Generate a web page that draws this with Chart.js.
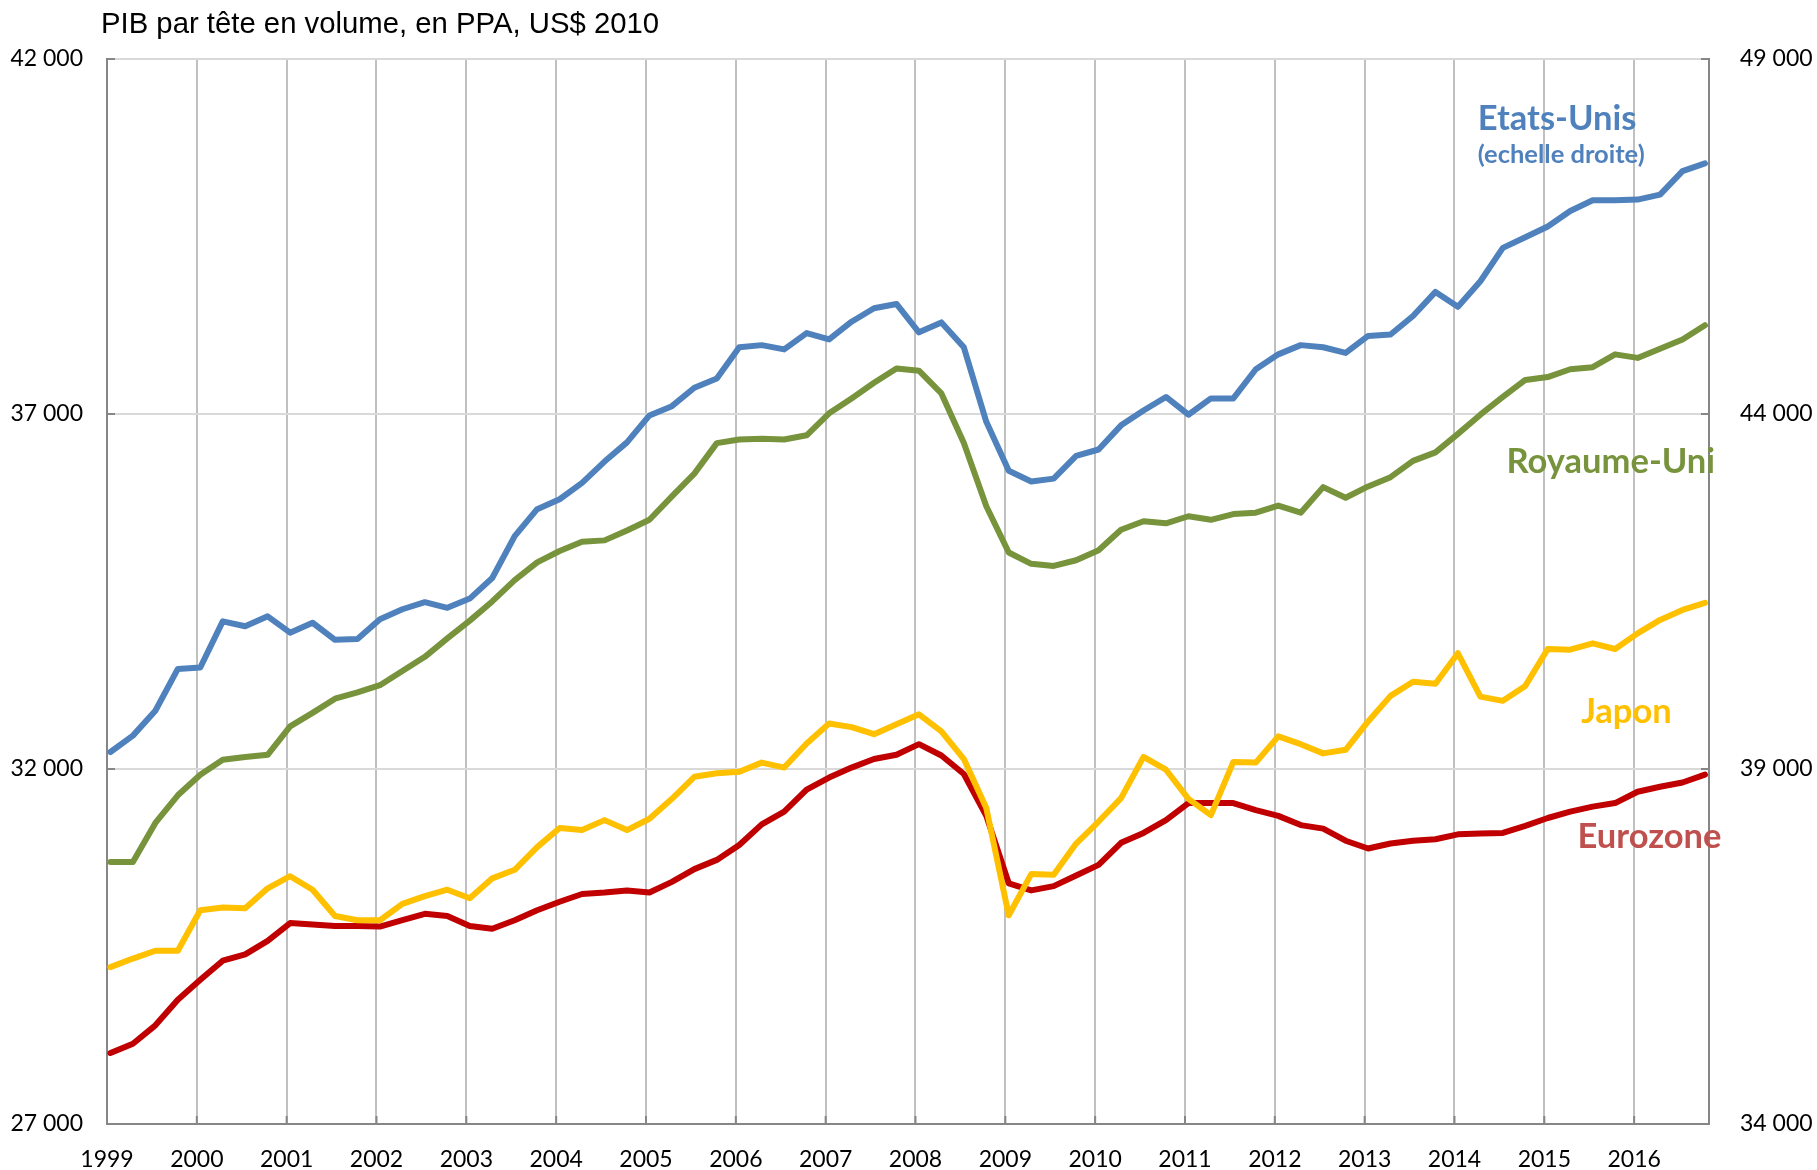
<!DOCTYPE html>
<html lang="fr">
<head>
  <meta charset="UTF-8">
  <title>PIB par tête en volume, en PPA</title>
  <script src="https://cdn.jsdelivr.net/npm/chart.js"></script>
  <style>
    html, body { margin: 0; padding: 0; background: #fff; }
    .chart-container { position: relative; width: 1817px; height: 1170px; }
  </style>
</head>
<body>
  <div class="chart-container">
    <canvas id="pibChart"></canvas>
  </div>

  <script>
    // Trimestres 1999T1 ... 2016T4
    const annees = [];
    for (let a = 1999; a <= 2016; a++) annees.push(a);
    const trimestres = [];
    annees.forEach(a => ['T1', 'T2', 'T3', 'T4'].forEach(t => trimestres.push(a + t)));

    // Etats-Unis (echelle droite)
    const etatsUnis = [
      39240, 39470, 39820, 40410, 40430, 41080, 41010, 41150, 40920, 41060, 40820, 40830,
      41110, 41250, 41350, 41270, 41400, 41690, 42280, 42660, 42800, 43030, 43330, 43600,
      43980, 44110, 44370, 44500, 44940, 44970, 44910, 45140, 45050, 45300, 45490, 45550,
      45150, 45290, 44940, 43890, 43200, 43050, 43090, 43410, 43500, 43840, 44050, 44240,
      43990, 44220, 44220, 44630, 44840, 44970, 44940, 44860, 45100, 45120, 45380, 45720,
      45510, 45870, 46340, 46490, 46640, 46860, 47010, 47010, 47020, 47090, 47420, 47530
    ];
    // Royaume-Uni (echelle gauche)
    const royaumeUni = [
      30690, 30690, 31240, 31630, 31920, 32130, 32170, 32200, 32600, 32790, 32990, 33080,
      33180, 33380, 33580, 33840, 34090, 34360, 34660, 34910, 35070, 35200, 35220, 35360,
      35510, 35840, 36160, 36590, 36640, 36650, 36640, 36700, 37010, 37220, 37440, 37640,
      37610, 37290, 36590, 35700, 35050, 34890, 34860, 34940, 35080, 35370, 35490, 35460,
      35560, 35510, 35590, 35610, 35710, 35610, 35970, 35820, 35980, 36110, 36340, 36460,
      36720, 36990, 37240, 37480, 37520, 37630, 37660, 37840, 37790, 37920, 38050, 38250
    ];
    // Japon
    const japon = [
      29210, 29330, 29440, 29440, 30010, 30050, 30040, 30320, 30490, 30300, 29930, 29870,
      29870, 30100, 30210, 30300, 30180, 30460, 30580, 30900, 31170, 31140, 31280, 31140,
      31300, 31580, 31890, 31940, 31960, 32090, 32020, 32360, 32640, 32590, 32490, 32630,
      32770, 32530, 32140, 31450, 29940, 30520, 30510, 30950, 31260, 31590, 32170, 31990,
      31580, 31350, 32100, 32090, 32460, 32350, 32220, 32270, 32670, 33030, 33230, 33200,
      33630, 33020, 32960, 33170, 33690, 33680, 33770, 33690, 33910, 34100, 34240, 34340
    ];
    // Eurozone
    const eurozone = [
      28000, 28130, 28390, 28750, 29030, 29300, 29390, 29580, 29830, 29810, 29790, 29790,
      29780, 29870, 29960, 29930, 29790, 29750, 29870, 30010, 30130, 30240, 30260, 30290,
      30260, 30410, 30590, 30720, 30930, 31220, 31400, 31710, 31880, 32020, 32140, 32200,
      32350, 32190, 31930, 31340, 30390, 30290, 30350, 30500, 30650, 30960, 31100, 31280,
      31520, 31520, 31520, 31420, 31340, 31210, 31160, 30990, 30880, 30950, 30990, 31010,
      31080, 31090, 31100, 31200, 31310, 31400, 31470, 31520, 31680, 31750, 31810, 31920
    ];

    const ticksGauche = [27000, 32000, 37000, 42000];
    const ticksDroite = [34000, 39000, 44000, 49000];

    // Etiquettes des séries : [texte, couleur, taille, annee, valeur echelle gauche]
    const etiquettes = [
      ['Etats-Unis', '#4F81BD', 34.5, 2014.26, 41160],
      ['(echelle droite)', '#4F81BD', 25.5, 2014.26, 40650],
      ['Royaume-Uni', '#77933C', 34.5, 2014.58, 36330],
      ['Japon', '#FFC000', 34.5, 2015.41, 32800],
      ['Eurozone', '#C0504D', 34.5, 2015.37, 31040]
    ];

    // point place au 15 du premier mois du trimestre
    function dateTrimestre(lbl) {
      const a = +lbl.slice(0, 4), q = +lbl.slice(5);
      return a + (q - 1) * 0.25 + 14 / 365;
    }
    function serie(valeurs) {
      return valeurs.map((v, i) => ({ x: dateTrimestre(trimestres[i]), y: v }));
    }
    function milliers(v) {
      return String(v).replace(/\B(?=(\d{3})+(?!\d))/g, ' ');
    }

    const axeCouleur = '#868686';

    const titrePlugin = {
      id: 'titre',
      afterDraw(chart) {
        const ctx = chart.ctx;
        ctx.save();
        ctx.font = '29.3px "Liberation Sans", Arial, sans-serif';
        ctx.fillStyle = '#000';
        ctx.textAlign = 'left';
        ctx.textBaseline = 'alphabetic';
        ctx.fillText('PIB par tête en volume, en PPA, US$ 2010', chart.chartArea.left - 6, 33);
        ctx.restore();
      }
    };

    const graduationsPlugin = {
      id: 'graduations',
      beforeDatasetsDraw(chart) {
        const { ctx, chartArea: ca, scales } = chart;
        ctx.save();
        ctx.strokeStyle = axeCouleur;
        ctx.lineWidth = 2;
        ctx.beginPath();
        ticksGauche.forEach(v => {
          const y = scales.y.getPixelForValue(v);
          ctx.moveTo(ca.left, y); ctx.lineTo(ca.left + 8, y);
        });
        ticksDroite.forEach(v => {
          const y = scales.y2.getPixelForValue(v);
          ctx.moveTo(ca.right - 8, y); ctx.lineTo(ca.right, y);
        });
        annees.forEach(a => {
          const x = scales.x.getPixelForValue(a);
          ctx.moveTo(x, ca.bottom); ctx.lineTo(x, ca.bottom - 8);
        });
        ctx.stroke();
        ctx.restore();
      }
    };

    const etiquettesPlugin = {
      id: 'etiquettes',
      afterDatasetsDraw(chart) {
        const { ctx, scales } = chart;
        ctx.save();
        ctx.textAlign = 'left';
        ctx.textBaseline = 'middle';
        etiquettes.forEach(([texte, couleur, taille, x, y]) => {
          ctx.font = 'bold ' + taille + 'px Lato, "Open Sans", sans-serif';
          ctx.fillStyle = couleur;
          ctx.fillText(texte, scales.x.getPixelForValue(x), scales.y.getPixelForValue(y));
        });
        ctx.restore();
      }
    };

    const styleLigne = { borderWidth: 6, pointRadius: 0, tension: 0, fill: false,
                         borderJoinStyle: 'round', borderCapStyle: 'round' };

    const ctx = document.getElementById('pibChart').getContext('2d');
    const pibChart = new Chart(ctx, {
      type: 'line',
      data: {
        datasets: [
          { label: 'Etats-Unis', data: serie(etatsUnis), borderColor: '#4F81BD', yAxisID: 'y2', ...styleLigne },
          { label: 'Royaume-Uni', data: serie(royaumeUni), borderColor: '#77933C', yAxisID: 'y', ...styleLigne },
          { label: 'Japon', data: serie(japon), borderColor: '#FFC000', yAxisID: 'y', ...styleLigne },
          { label: 'Eurozone', data: serie(eurozone), borderColor: '#C00000', yAxisID: 'y', ...styleLigne }
        ]
      },
      options: {
        responsive: true,
        maintainAspectRatio: false,
        animation: false,
        layout: { padding: { top: 59, left: 0, right: 0, bottom: 0 } },
        plugins: {
          legend: { display: false },
          tooltip: { enabled: false },
          title: { display: false }
        },
        scales: {
          x: {
            type: 'linear',
            min: 1999,
            max: 2016 + 10 / 12,
            afterBuildTicks: s => { s.ticks = annees.map(a => ({ value: a })); },
            afterFit: s => { s.height = 46; },
            ticks: {
              callback: v => String(v),
              color: '#000',
              padding: 22,
              maxRotation: 0,
              autoSkip: false,
              font: { family: 'Lato', size: 23 }
            },
            grid: { color: 'rgb(192,192,192)', lineWidth: 2, drawTicks: false },
            border: { color: axeCouleur, width: 2 }
          },
          y: {
            position: 'left',
            min: 27000,
            max: 42000,
            afterBuildTicks: s => { s.ticks = ticksGauche.map(v => ({ value: v })); },
            afterFit: s => { s.width = 107; },
            ticks: {
              callback: v => milliers(v),
              color: '#000',
              padding: 24,
              font: { family: 'Lato', size: 23 }
            },
            grid: { color: 'rgb(217,217,217)', lineWidth: 2, drawTicks: false },
            border: { color: axeCouleur, width: 2 }
          },
          y2: {
            position: 'right',
            min: 34000,
            max: 49000,
            afterBuildTicks: s => { s.ticks = ticksDroite.map(v => ({ value: v })); },
            afterFit: s => { s.width = 108; },
            ticks: {
              callback: v => milliers(v),
              color: '#000',
              padding: 31,
              font: { family: 'Lato', size: 23 }
            },
            grid: { display: false, drawTicks: false },
            border: { color: axeCouleur, width: 2 }
          }
        }
      },
      plugins: [titrePlugin, graduationsPlugin, etiquettesPlugin]
    });
  </script>
</body>
</html>
